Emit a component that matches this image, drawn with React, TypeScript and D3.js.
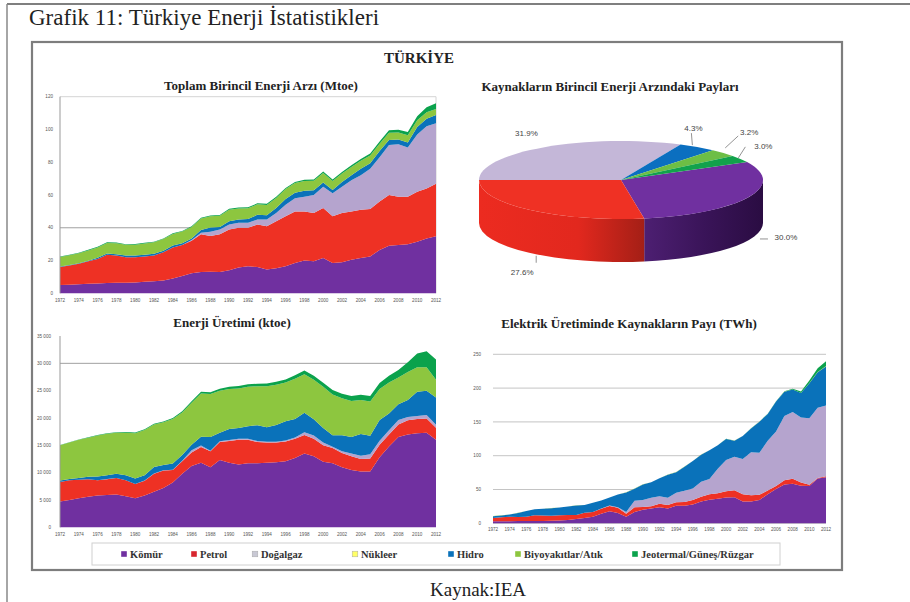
import React from 'react';
import * as d3 from 'd3';

// ---------- categories ----------
const years = [1972,1973,1974,1975,1976,1977,1978,1979,1980,1981,1982,1983,1984,1985,1986,1987,1988,1989,1990,1991,1992,1993,1994,1995,1996,1997,1998,1999,2000,2001,2002,2003,2004,2005,2006,2007,2008,2009,2010,2011,2012];
const xTickYears = [1972,1974,1976,1978,1980,1982,1984,1986,1988,1990,1992,1994,1996,1998,2000,2002,2004,2006,2008,2010,2012];
const seriesKeys = ['Kömür','Petrol','Doğalgaz','Nükleer','Hidro','Biyoyakıtlar/Atık','Jeotermal/Güneş/Rüzgar'];
const seriesColors = ['#7030A0','#EE3124','#B5A4CE','#FFFF66','#0A72BA','#8DC63F','#0BA24C'];

// ---------- Toplam Birincil Enerji Arzı (Mtoe) ----------
const tpesCoal  = [5.0,5.2,5.5,5.8,6.0,6.3,6.5,6.5,6.6,7.0,7.3,7.8,9.0,10.5,12.3,13.0,13.2,13.0,14.0,15.8,16.5,16.0,14.5,15.3,16.5,18.5,20.0,19.5,21.5,18.5,19.0,20.5,21.5,22.5,26.5,29.0,29.5,30.0,31.5,33.5,34.8];
const tpesOil   = [11.0,11.8,12.5,13.7,15.0,17.2,16.5,15.5,15.4,15.5,15.7,17.2,19.0,19.0,19.7,23.0,21.8,23.0,25.0,24.2,23.5,26.0,26.5,28.7,30.5,31.5,30.0,29.5,30.5,28.5,30.0,29.5,29.5,29.0,29.5,31.0,29.5,29.0,30.5,30.5,32.0];
const tpesGas   = [0,0,0,0,0,0,0,0,0,0,0,0,0,0,0.5,1.0,2.5,3.0,3.0,3.0,3.0,3.0,4.0,5.0,7.0,8.0,9.0,11.0,13.0,14.0,16.0,19.0,21.0,24.5,27.0,30.5,32.0,30.0,35.0,38.0,37.0];
const tpesNuc   = [0,0,0,0,0,0,0,0,0,0,0,0,0,0,0,0,0,0,0,0,0,0,0,0,0,0,0,0,0,0,0,0,0,0,0,0,0,0,0,0,0];
const tpesHydro = [0.3,0.2,0.3,0.4,0.7,0.8,0.9,1.0,1.0,1.0,1.1,1.0,1.1,1.0,1.0,1.6,2.6,1.5,2.0,2.0,2.3,2.9,2.6,3.0,3.5,3.4,3.6,2.9,2.7,2.1,2.9,3.0,4.0,3.4,3.8,3.1,2.9,3.1,4.5,4.5,5.0];
const tpesBio   = [5.8,6.0,6.1,6.3,6.3,6.4,6.7,6.6,6.7,6.9,7.0,7.1,7.1,7.2,7.0,7.0,6.9,6.8,7.0,6.8,6.6,6.4,6.3,6.2,6.1,5.9,5.9,5.8,5.7,5.5,5.2,5.1,4.9,4.7,4.5,4.4,4.3,4.3,4.1,4.0,3.7];
const tpesGeo   = [0.4,0.4,0.4,0.4,0.4,0.4,0.4,0.4,0.4,0.4,0.4,0.4,0.4,0.4,0.5,0.5,0.5,0.5,0.6,0.6,0.6,0.6,0.7,0.7,0.7,0.7,0.8,0.8,0.9,0.9,1.0,1.0,1.1,1.2,1.3,1.5,1.7,2.0,2.5,3.0,3.5];
const tpesYTicks = [0,20,40,60,80,100,120];

// ---------- Enerji Üretimi (ktoe) ----------
const prodCoal  = [4700,5000,5300,5600,5800,5900,6000,5700,5300,5800,6500,7200,8200,9800,11200,11800,11000,12300,11800,11500,11700,11700,11800,11900,12100,12700,13500,13000,12000,11700,11000,10500,10200,10200,12800,14800,16500,17000,17200,17300,16000];
const prodOil   = [3600,3600,3400,3200,2800,2900,3000,2900,2600,2700,3300,3200,2300,2300,2500,2900,2900,3300,4000,4500,4300,3900,3700,3600,3600,3500,3400,3200,3000,2800,2600,2500,2300,2400,2300,2200,2300,2600,2600,2600,2200];
const prodGas   = [0,0,0,0,10,20,20,20,20,40,50,50,40,60,400,250,100,150,180,180,180,180,170,160,180,220,480,600,520,260,320,480,590,750,750,750,850,600,570,650,550];
const prodNuc   = [0,0,0,0,0,0,0,0,0,0,0,0,0,0,0,0,0,0,0,0,0,0,0,0,0,0,0,0,0,0,0,0,0,0,0,0,0,0,0,0,0];
const prodHydro = [260,220,300,440,700,700,770,900,1000,1000,1200,960,1150,1060,1000,1600,2500,1530,2000,1980,2290,2900,2650,3060,3500,3400,3600,2990,2650,2070,2900,3040,3960,3400,3800,3080,2860,3090,4450,4450,4980];
const prodBio   = [6440,6680,7000,7160,7490,7580,7510,7780,8280,8260,7750,7790,8110,7780,7700,7950,7900,7720,7320,7240,7230,7120,7480,7380,7120,7380,7020,7210,7530,7470,6780,6580,6250,6250,5650,5670,4890,5110,4480,4300,3270];
const prodGeo   = [60,60,70,80,90,100,110,120,130,140,150,170,200,230,260,300,330,360,400,430,450,470,490,520,560,600,700,720,750,800,850,900,950,1000,1100,1250,1400,1800,2500,2900,3700];
const prodYTicks = [0,5000,10000,15000,20000,25000,30000,35000];

// ---------- Elektrik Üretimi (TWh) ----------
const elecCoal  = [2.9,3.1,3.2,3.3,3.4,3.3,3.5,3.6,4.0,5.0,6.2,7.9,9.8,14.3,18.0,15.3,9.6,16.7,20.2,22.0,23.8,21.9,25.8,25.8,27.8,32.2,34.9,36.2,38.2,38.4,32.1,32.3,34.4,43.1,50.9,57.3,58.4,55.7,55.0,66.2,68.1];
const elecOil   = [5.0,6.0,6.5,6.2,6.3,8.7,7.9,7.5,8.0,7.2,6.1,7.8,7.1,7.4,7.5,7.6,4.6,6.9,3.9,3.3,5.3,5.2,5.5,5.8,6.5,7.2,7.9,8.1,9.3,10.4,10.7,9.2,7.7,5.5,4.3,6.5,7.5,4.8,2.2,0.9,1.6];
const elecGas   = [0,0,0,0,0,0,0,0,0,0,0,0,0,0.06,0.8,1.0,2.5,9.6,10.2,12.6,10.8,10.8,13.8,16.6,17.2,22.2,22.9,36.3,46.2,49.5,52.5,63.5,62.2,73.4,80.7,95.0,98.7,96.1,98.1,104.0,104.5];
const elecNuc   = [0,0,0,0,0,0,0,0,0,0,0,0,0,0,0,0,0,0,0,0,0,0,0,0,0,0,0,0,0,0,0,0,0,0,0,0,0,0,0,0,0];
const elecHydro = [2.7,2.6,3.4,5.9,8.4,8.6,10.2,11.3,11.3,12.6,14.2,11.3,13.4,12.0,11.9,18.6,29.0,18.0,23.1,22.7,26.6,34.0,30.6,35.5,40.5,39.8,42.2,34.7,30.9,24.0,33.7,35.3,46.1,39.6,44.2,35.9,33.3,36.0,51.8,52.3,57.9];
const elecBio   = [0.1,0.1,0.1,0.1,0.1,0.1,0.1,0.1,0.1,0.1,0.1,0.1,0.1,0.1,0.1,0.1,0.1,0.1,0.2,0.2,0.2,0.2,0.2,0.2,0.2,0.2,0.2,0.2,0.2,0.2,0.2,0.1,0.1,0.1,0.2,0.2,0.2,0.3,0.5,0.5,0.7];
const elecGeo   = [0,0,0,0,0,0,0,0,0,0,0,0,0,0.01,0.05,0.05,0.07,0.06,0.08,0.08,0.07,0.08,0.08,0.09,0.08,0.09,0.09,0.1,0.1,0.1,0.1,0.1,0.2,0.2,0.3,0.5,1.0,1.9,3.6,5.4,6.8];
const elecYTicks = [0,50,100,150,200,250];

// ---------- Pie: Kaynakların Birincil Enerji Arzındaki Payları (%) ----------
const pieKeys   = ['Kömür','Petrol','Doğalgaz','Hidro','Biyoyakıtlar/Atık','Jeotermal/Güneş/Rüzgar'];
const pieValues = [30.0, 27.6, 31.9, 4.3, 3.2, 3.0];
const pieTopColors = ['#7030A0','#EF3124','#C4B7D8','#0B6FC0','#6DBE45','#12A24C'];
// label layout offsets from each slice's rim point: [textDx, textDy, line x1, y1, x2, y2]
const pieLabelLayout = [
  [38, -3, 12, -1.5, 20, -1.5],
  [-7, 19, 7, 3, 7, 10],
  [-18, -14, 0, 0, 0, 0],
  [-4, -19, -5, -2, -6, -14],
  [26, -21, 2, -5, 15, -17],
  [23, -13, -2, -1, 5, -12],
];

const SANS = 'Liberation Sans, Arial, sans-serif';
const SERIF = 'Liberation Serif, Times New Roman, serif';

function makeRows(cols: number[][]) {
  return years.map((yr, i) => {
    const r: any = { year: yr };
    seriesKeys.forEach((k, j) => { r[k] = cols[j][i]; });
    return r;
  });
}

type ChartProps = {
  cols: number[][];
  xRange: [number, number];
  yMax: number;
  yRange: [number, number];
  yTicks: number[];
  yFmt: (v: number) => string;
  grid: number[];
  gridColor: string;
  yLabelX: number;
  xLabelY: number;
  leftAxis: boolean;
  border: boolean;
};

function StackedChart(p: ChartProps) {
  const x = d3.scaleLinear().domain([years[0], years[years.length - 1]]).range(p.xRange);
  const y = d3.scaleLinear().domain([0, p.yMax]).range(p.yRange);
  const rows = makeRows(p.cols);
  const stacked = d3.stack<any>().keys(seriesKeys)(rows);
  const area = d3.area<any>()
    .x((d: any) => x(d.data.year))
    .y0((d: any) => y(d[0]))
    .y1((d: any) => y(d[1]));
  return (
    <g>
      {p.border && (
        <path d={`M${p.xRange[0]},${y(p.yMax)} L${p.xRange[1]},${y(p.yMax)} L${p.xRange[1]},${y(0)}`}
          fill="none" stroke="#d4d4d4" strokeWidth={1} />
      )}
      {p.grid.map((g) => (
        <line key={g} x1={p.xRange[0]} x2={p.xRange[1]} y1={y(g)} y2={y(g)} stroke={p.gridColor} strokeWidth={0.8} />
      ))}
      {stacked.map((s, i) => (
        <path key={seriesKeys[i]} d={area(s as any) || ''} fill={seriesColors[i]} />
      ))}
      {p.leftAxis && (
        <line x1={p.xRange[0]} x2={p.xRange[0]} y1={y(p.yMax)} y2={y(0)} stroke="#999" strokeWidth={1} />
      )}
      {p.yTicks.map((t) => (
        <text key={t} x={p.yLabelX} y={y(t)} dy="0.35em" textAnchor="end" fontFamily={SANS} fontSize={4.6} fill="#555">
          {p.yFmt(t)}
        </text>
      ))}
      {xTickYears.map((t) => (
        <text key={t} x={x(t)} y={p.xLabelY} dy="0.35em" textAnchor="middle" fontFamily={SANS} fontSize={4.6} fill="#555">
          {t}
        </text>
      ))}
    </g>
  );
}

function Pie3D() {
  const cx = 621, cy = 180, rx = 142, ry = 39, depth = 43;
  const start = (62.6 * Math.PI) / 180;
  const arcs = d3.pie<number>().sort(null).startAngle(start).endAngle(start + 2 * Math.PI)(pieValues);
  const px = (t: number) => cx + rx * Math.cos(t);
  const py = (t: number) => cy + ry * Math.sin(t);
  const slices = arcs.map((a) => ({ t1: a.startAngle - Math.PI / 2, t2: a.endAngle - Math.PI / 2 }));
  const front = (t1: number, t2: number) => {
    const out: [number, number][] = [];
    for (const k of [-1, 0, 1]) {
      const lo = Math.max(t1, 2 * Math.PI * k);
      const hi = Math.min(t2, 2 * Math.PI * k + Math.PI);
      if (hi > lo) out.push([lo, hi]);
    }
    return out;
  };
  const sideStops: Record<number, [number, string][]> = {
    0: [[0, '#4d1f72'], [0.5, '#3a1459'], [1, '#2a0c42']],
    1: [[0, '#ec2b20'], [0.6, '#e2281e'], [1, '#a41f16']],
  };
  const sides: any[] = [];
  slices.forEach((s, i) => {
    front(s.t1, s.t2).forEach(([lo, hi], j) => {
      const x1 = px(lo), x2 = px(hi);
      sides.push({ i, j, lo, hi, gx1: Math.min(x1, x2), gx2: Math.max(x1, x2) });
    });
  });
  return (
    <g>
      <defs>
        {sides.map((sd) => (
          <linearGradient key={`g${sd.i}_${sd.j}`} id={`side${sd.i}_${sd.j}`} gradientUnits="userSpaceOnUse"
            x1={sd.gx1} x2={sd.gx2} y1={0} y2={0}>
            {(sideStops[sd.i] || [[0, d3.color(pieTopColors[sd.i])!.darker(1).toString()], [1, d3.color(pieTopColors[sd.i])!.darker(1.5).toString()]]).map(([o, c]: any, k: number) => (
              <stop key={k} offset={o} stopColor={c} />
            ))}
          </linearGradient>
        ))}
      </defs>
      {sides.map((sd) => (
        <path key={`s${sd.i}_${sd.j}`}
          d={`M${px(sd.lo)},${py(sd.lo)} A${rx},${ry} 0 0 1 ${px(sd.hi)},${py(sd.hi)} L${px(sd.hi)},${py(sd.hi) + depth} A${rx},${ry} 0 0 0 ${px(sd.lo)},${py(sd.lo) + depth} Z`}
          fill={`url(#side${sd.i}_${sd.j})`} />
      ))}
      {slices.map((s, i) => (
        <path key={`t${i}`}
          d={`M${cx},${cy} L${px(s.t1)},${py(s.t1)} A${rx},${ry} 0 ${s.t2 - s.t1 > Math.PI ? 1 : 0} 1 ${px(s.t2)},${py(s.t2)} Z`}
          fill={pieTopColors[i]} />
      ))}
      {slices.map((s, i) => {
        const m = (s.t1 + s.t2) / 2;
        const ax = px(m);
        const ay = py(m) + (Math.sin(m) > 0 ? depth : 0);
        const [tdx, tdy, l1x, l1y, l2x, l2y] = pieLabelLayout[i];
        const hasLine = !(l1x === 0 && l1y === 0 && l2x === 0 && l2y === 0);
        return (
          <g key={`l${i}`}>
            {hasLine && (
              <line x1={ax + l1x} y1={ay + l1y} x2={ax + l2x} y2={ay + l2y} stroke="#777" strokeWidth={0.8} />
            )}
            <text x={ax + tdx} y={ay + tdy} dy="0.35em" textAnchor="middle" fontFamily={SANS} fontSize={8} fill="#444">
              {pieValues[i].toFixed(1)}%
            </text>
          </g>
        );
      })}
    </g>
  );
}

const legendMarkerX = [124, 194, 255, 355, 451, 518, 635];
const legendMarkerColors = ['#7030A0', '#D7262E', '#C8C8D4', '#FFFF66', '#0A72BA', '#8DC63F', '#0BA24C'];

export default function App() {
  const space = (v: number) => d3.format(',')(v).replace(/,/g, ' ');
  return (
    <svg width={910} height={602} viewBox="0 0 910 602" style={{ position: 'absolute', left: 0, top: 0, background: '#fff' }}>
      <rect x={0} y={0} width={910} height={602} fill="#fff" />
      {/* page frame */}
      <line x1={7} y1={4} x2={910} y2={4} stroke="#555" strokeWidth={1.5} />
      <line x1={7} y1={4} x2={7} y2={602} stroke="#888" strokeWidth={1.5} />
      <text x={29} y={25} fontFamily={SERIF} fontSize={23} fill="#222">Grafik 11: Türkiye Enerji İstatistikleri</text>

      {/* inner box */}
      <rect x={32} y={42} width={810} height={528} fill="#fff" stroke="#7d7d7d" strokeWidth={2.2} />
      <text x={419} y={63} textAnchor="middle" fontFamily={SERIF} fontWeight="bold" fontSize={15} fill="#222">TÜRKİYE</text>

      {/* titles */}
      <text x={261} y={90} textAnchor="middle" fontFamily={SERIF} fontWeight="bold" fontSize={13} fill="#222">Toplam Birincil Enerji Arzı (Mtoe)</text>
      <text x={610} y={91} textAnchor="middle" fontFamily={SERIF} fontWeight="bold" fontSize={13} fill="#222">Kaynakların Birincil Enerji Arzındaki Payları</text>
      <text x={232} y={327} textAnchor="middle" fontFamily={SERIF} fontWeight="bold" fontSize={13} fill="#222">Enerji Üretimi (ktoe)</text>
      <text x={629} y={328} textAnchor="middle" fontFamily={SERIF} fontWeight="bold" fontSize={13} fill="#222">Elektrik Üretiminde Kaynakların Payı (TWh)</text>

      <StackedChart
        cols={[tpesCoal, tpesOil, tpesGas, tpesNuc, tpesHydro, tpesBio, tpesGeo]}
        xRange={[60, 436]} yMax={120} yRange={[293.3, 96.7]} yTicks={tpesYTicks}
        yFmt={(v) => String(v)} grid={[40]} gridColor="#888" yLabelX={53} xLabelY={300.5}
        leftAxis={true} border={true} />

      <StackedChart
        cols={[prodCoal, prodOil, prodGas, prodNuc, prodHydro, prodBio, prodGeo]}
        xRange={[60, 436]} yMax={35000} yRange={[527.3, 336]} yTicks={prodYTicks}
        yFmt={space} grid={[30000]} gridColor="#888" yLabelX={51} xLabelY={534}
        leftAxis={true} border={false} />

      <StackedChart
        cols={[elecCoal, elecOil, elecGas, elecNuc, elecHydro, elecBio, elecGeo]}
        xRange={[493, 826]} yMax={250} yRange={[523.3, 354.3]} yTicks={elecYTicks}
        yFmt={(v) => String(v)} grid={elecYTicks} gridColor="#b5b5b5" yLabelX={481} xLabelY={529}
        leftAxis={false} border={false} />

      <Pie3D />

      {/* legend */}
      <rect x={92} y={543} width={688} height={22} fill="#fff" stroke="#d0d0d0" strokeWidth={1} />
      {seriesKeys.map((k, i) => (
        <g key={k}>
          <rect x={legendMarkerX[i] - 2.8} y={551.2} width={5.6} height={5.6} fill={legendMarkerColors[i]}
            stroke={i === 2 || i === 3 ? '#aaa' : 'none'} strokeWidth={0.5} />
          <text x={legendMarkerX[i] + 6} y={558} fontFamily={SERIF} fontWeight="bold" fontSize={10.5} fill="#333">{k}</text>
        </g>
      ))}

      <text x={478} y={596} textAnchor="middle" fontFamily={SERIF} fontSize={19} fill="#222">Kaynak:IEA</text>
    </svg>
  );
}
